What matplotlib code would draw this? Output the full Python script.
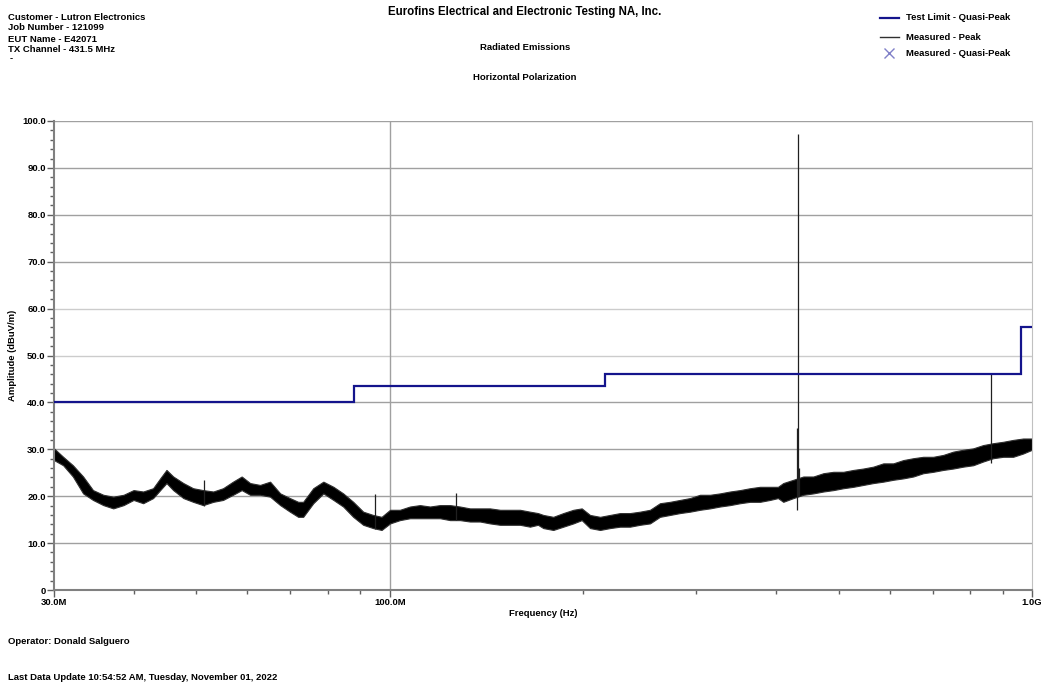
import matplotlib.pyplot as plt
from matplotlib.lines import Line2D
from matplotlib.ticker import FixedLocator, NullFormatter

plt.rcParams["font.family"] = ["Liberation Sans", "DejaVu Sans"]

# limit line (MHz edges, dBuV/m levels)
limit_edges = [30, 88, 216, 960, 1000]
limit_levels = [40.0, 43.5, 46.0, 56.0]

# peak trace envelope (MHz, dBuV/m)
peak_freq = [30.0, 31.0, 32.1, 33.3, 34.5, 35.8, 37.1, 38.5, 39.9, 41.3,
             42.8, 43.9, 44.9, 46.0, 47.7, 49.4, 51.2, 53.1, 55.0, 57.0,
             58.8, 60.6, 62.8, 65.1, 67.5, 69.9, 72.0, 73.3, 76.0, 78.8,
             81.7, 84.6, 87.7, 90.9, 94.2, 97.1, 100.1, 103.7, 107.5, 111.4,
             115.5, 119.7, 124.1, 128.6, 133.3, 138.2, 143.2, 148.5, 153.9, 159.5,
             165.3, 170.1, 173.4, 179.7, 186.3, 193.1, 199.0, 205.0, 212.5, 220.2,
             228.3, 236.6, 245.2, 254.2, 263.4, 273.1, 283.0, 293.4, 304.1, 315.2,
             326.7, 338.7, 351.0, 363.8, 377.1, 390.8, 402.2, 409.9, 425.0, 440.5,
             456.6, 473.3, 490.6, 508.4, 527.0, 546.2, 566.1, 586.7, 608.1, 630.3,
             653.3, 677.1, 701.8, 727.4, 753.9, 781.4, 809.9, 839.4, 870.0, 901.7,
             934.6, 968.7, 1000.0]
peak_hi = [30.2, 28.4, 26.6, 24.2, 21.3, 20.3, 19.9, 20.3, 21.3, 21.0,
           21.7, 23.8, 25.6, 24.2, 22.8, 21.7, 21.3, 21.0, 21.7, 23.1,
           24.2, 22.8, 22.4, 23.1, 20.6, 19.6, 18.8, 18.8, 21.7, 23.1,
           22.0, 20.6, 18.8, 16.7, 16.0, 15.6, 17.1, 17.1, 17.8, 18.1,
           17.8, 18.1, 18.1, 17.8, 17.4, 17.4, 17.4, 17.1, 17.1, 17.1,
           16.7, 16.4, 16.0, 15.6, 16.4, 17.1, 17.4, 16.0, 15.6, 16.0,
           16.4, 16.4, 16.7, 17.1, 18.5, 18.8, 19.2, 19.6, 20.3, 20.3,
           20.6, 21.0, 21.3, 21.7, 22.0, 22.0, 22.0, 22.8, 23.5, 24.2,
           24.2, 24.9, 25.2, 25.2, 25.6, 25.9, 26.3, 27.0, 27.0, 27.7,
           28.1, 28.4, 28.4, 28.8, 29.5, 29.9, 30.2, 30.9, 31.3, 31.6,
           32.0, 32.3, 32.3]
peak_lo = [27.7, 26.6, 24.2, 20.6, 19.2, 18.1, 17.4, 18.1, 19.2, 18.5,
           19.6, 21.3, 22.8, 21.3, 19.6, 18.8, 18.1, 18.8, 19.2, 20.3,
           21.3, 20.3, 20.3, 19.9, 18.1, 16.7, 15.6, 15.6, 18.5, 20.6,
           19.2, 17.8, 15.6, 13.9, 13.2, 12.8, 14.2, 14.9, 15.3, 15.3,
           15.3, 15.3, 14.9, 14.9, 14.6, 14.6, 14.2, 13.9, 13.9, 13.9,
           13.5, 13.9, 13.2, 12.8, 13.5, 14.2, 14.9, 13.2, 12.8, 13.2,
           13.5, 13.5, 13.9, 14.2, 15.6, 16.0, 16.4, 16.7, 17.1, 17.4,
           17.8, 18.1, 18.5, 18.8, 18.8, 19.2, 19.6, 18.8, 19.6, 20.3,
           20.6, 21.0, 21.3, 21.7, 22.0, 22.4, 22.8, 23.1, 23.5, 23.8,
           24.2, 24.9, 25.2, 25.6, 25.9, 26.3, 26.6, 27.4, 28.1, 28.4,
           28.4, 29.1, 29.9]

# narrow spikes in the peak trace
spike_freq = [51.4, 94.8, 127.0, 431.0, 431.5, 433.0, 863.0]
spike_top = [23.5, 20.5, 20.6, 34.5, 97.2, 26.0, 46.2]
spike_base = [18.0, 13.0, 15.0, 17.0, 20.0, 20.0, 27.0]

W, H = 1042, 684


def ftext(x, y, s, **kw):
    fig.text(x / W, 1 - y / H, s, **kw)


fig = plt.figure(figsize=(W / 100, H / 100), dpi=100)
ax = fig.add_axes([54 / W, (H - 590) / H, 978 / W, 469 / H])

ax.set_xscale("log")
ax.set_xlim(30, 1000)
ax.set_ylim(0, 100)

# grid
for v in range(10, 101, 10):
    c = "#cccccc" if v in (50, 60) else "#a0a0a0"
    ax.axhline(v, color=c, lw=1.0, zorder=0)
ax.axvline(100, color="#a0a0a0", lw=1.0, zorder=0)

ax.stairs(limit_levels, limit_edges, color="#14148c", lw=1.6, baseline=None, zorder=3)

ax.fill_between(peak_freq, peak_lo, peak_hi, facecolor="black", edgecolor="#303030",
                lw=0.8, zorder=2)
ax.vlines(spike_freq, spike_base, spike_top, color="#202020", lw=0.9, zorder=2)

# ticks
ax.yaxis.set_major_locator(FixedLocator(range(0, 101, 10)))
ax.set_yticklabels(["0"] + [f"{v:.1f}" for v in range(10, 101, 10)])
ax.yaxis.set_minor_locator(FixedLocator([v for v in range(0, 101, 2) if v % 10]))
ax.xaxis.set_major_locator(FixedLocator([30, 100, 1000]))
ax.set_xticklabels(["30.0M", "100.0M", "1.0G"])
ax.xaxis.set_minor_locator(FixedLocator([40, 50, 60, 70, 80, 90, 200, 300, 400, 500, 600, 700, 800, 900]))
ax.xaxis.set_minor_formatter(NullFormatter())
ax.tick_params(axis="both", which="major", length=5, width=1, color="#606060",
               labelsize=6.8, pad=1)
ax.tick_params(axis="both", which="minor", length=3, width=1, color="#606060")
for lab in ax.get_xticklabels() + ax.get_yticklabels():
    lab.set_fontweight("bold")

for s in ["left", "bottom"]:
    ax.spines[s].set_color("#808080")
    ax.spines[s].set_linewidth(1.5)
ax.spines["right"].set_color("#c0c0c0")
ax.spines["top"].set_visible(False)

hdr = dict(fontsize=6.8, fontweight="bold", va="center", ha="left")

ftext(13, 355, "Amplitude (dBuV/m)", fontsize=6.8, fontweight="bold",
      rotation=90, ha="center", va="center")
ftext(543, 613, "Frequency (Hz)", fontsize=6.8, fontweight="bold", ha="center", va="center")

# header text
ftext(8, 18, "Customer - Lutron Electronics", **hdr)
ftext(8, 28, "Job Number - 121099", **hdr)
ftext(8, 39, "EUT Name - E42071", **hdr)
ftext(8, 49, "TX Channel - 431.5 MHz", **hdr)
ftext(10, 59, "-", **hdr)

ftext(525, 12, "Eurofins Electrical and Electronic Testing NA, Inc.",
      fontsize=8.3, fontweight="bold", ha="center", va="center")
ftext(525, 48, "Radiated Emissions", fontsize=6.8, fontweight="bold", ha="center", va="center")
ftext(525, 77, "Horizontal Polarization", fontsize=6.8, fontweight="bold", ha="center", va="center")

# legend
fig.add_artist(Line2D([880 / W, 899 / W], [1 - 18 / H] * 2, color="#14148c", lw=1.6))
fig.add_artist(Line2D([880 / W, 899 / W], [1 - 37 / H] * 2, color="#303030", lw=1.0))
fig.add_artist(Line2D([889 / W], [1 - 53 / H], marker="x", color="#8080c8", ms=7, mew=1.0))
ftext(906, 18, "Test Limit - Quasi-Peak", **hdr)
ftext(906, 37, "Measured - Peak", **hdr)
ftext(906, 53, "Measured - Quasi-Peak", **hdr)

ftext(8, 641, "Operator: Donald Salguero", **hdr)
ftext(8, 677, "Last Data Update 10:54:52 AM, Tuesday, November 01, 2022", **hdr)

fig.savefig("out.png", dpi=100)
